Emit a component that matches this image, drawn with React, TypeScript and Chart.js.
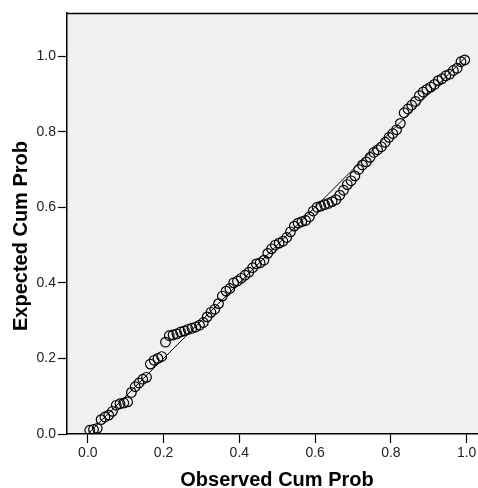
import React, { useEffect, useRef } from "react";
import { Chart, registerables } from "chart.js";

Chart.register(...registerables);

// Observed cumulative probability (x)
const observedCumProb = [
  0.005, 0.015, 0.025, 0.035, 0.045, 0.055, 0.065, 0.075, 0.085, 0.095,
  0.105, 0.115, 0.125, 0.135, 0.145, 0.155, 0.165, 0.175, 0.185, 0.195,
  0.205, 0.215, 0.225, 0.235, 0.245, 0.255, 0.265, 0.275, 0.285, 0.295,
  0.305, 0.315, 0.325, 0.335, 0.345, 0.355, 0.365, 0.375, 0.385, 0.395,
  0.405, 0.415, 0.425, 0.435, 0.445, 0.455, 0.465, 0.475, 0.485, 0.495,
  0.505, 0.515, 0.525, 0.535, 0.545, 0.555, 0.565, 0.575, 0.585, 0.595,
  0.605, 0.615, 0.625, 0.635, 0.645, 0.655, 0.665, 0.675, 0.685, 0.695,
  0.705, 0.715, 0.725, 0.735, 0.745, 0.755, 0.765, 0.775, 0.785, 0.795,
  0.805, 0.815, 0.825, 0.835, 0.845, 0.855, 0.865, 0.875, 0.885, 0.895,
  0.905, 0.915, 0.925, 0.935, 0.945, 0.955, 0.965, 0.975, 0.985, 0.995,
];

// Expected cumulative probability (y)
const expectedCumProb = [
  0.010, 0.012, 0.015, 0.038, 0.045, 0.050, 0.060, 0.076, 0.080, 0.082,
  0.085, 0.110, 0.125, 0.135, 0.145, 0.150, 0.185, 0.195, 0.200, 0.205,
  0.243, 0.260, 0.262, 0.265, 0.270, 0.273, 0.277, 0.280, 0.283, 0.288,
  0.295, 0.310, 0.322, 0.330, 0.345, 0.365, 0.378, 0.385, 0.400, 0.405,
  0.412, 0.420, 0.428, 0.440, 0.450, 0.453, 0.460, 0.478, 0.490, 0.500,
  0.505, 0.510, 0.520, 0.535, 0.550, 0.558, 0.562, 0.565, 0.575, 0.590,
  0.600, 0.603, 0.607, 0.610, 0.615, 0.620, 0.632, 0.645, 0.660, 0.670,
  0.683, 0.700, 0.712, 0.720, 0.732, 0.745, 0.752, 0.760, 0.772, 0.785,
  0.795, 0.805, 0.822, 0.850, 0.860, 0.870, 0.880, 0.895, 0.905, 0.912,
  0.918, 0.925, 0.935, 0.940, 0.948, 0.952, 0.962, 0.968, 0.985, 0.990,
];

// Reference diagonal (expected = observed)
const refLineX = [0, 1];
const refLineY = [0, 1];

const xTitle = "Observed Cum Prob";
const yTitle = "Expected Cum Prob";

const FONT = "'Liberation Sans', Arial, Helvetica, sans-serif";

const backgroundPlugin = {
  id: "plotBackground",
  beforeDraw(chart: any) {
    const { ctx, chartArea } = chart;
    const { left, top, right, bottom } = chartArea;
    ctx.save();
    ctx.fillStyle = "#F0F0F0";
    ctx.fillRect(left, top, right - left, bottom - top);
    ctx.strokeStyle = "#000000";
    ctx.lineWidth = 1.5;
    ctx.beginPath();
    ctx.moveTo(left, top + 0.5);
    ctx.lineTo(right, top + 0.5);
    ctx.stroke();
    ctx.restore();
  },
};

const axisTitlePlugin = {
  id: "axisTitles",
  afterDraw(chart: any) {
    const { ctx } = chart;
    ctx.save();
    ctx.fillStyle = "#000000";
    ctx.font = `bold 20px ${FONT}`;
    ctx.textAlign = "center";
    ctx.textBaseline = "alphabetic";
    ctx.fillText(xTitle, 277, 486);
    ctx.translate(26.5, 236);
    ctx.rotate(-Math.PI / 2);
    ctx.fillText(yTitle, 0, 0);
    ctx.restore();
  },
};

export default function App() {
  const canvasRef = useRef<HTMLCanvasElement | null>(null);

  useEffect(() => {
    if (!canvasRef.current) return;
    const points = observedCumProb.map((x, i) => ({ x, y: expectedCumProb[i] }));
    const line = refLineX.map((x, i) => ({ x, y: refLineY[i] }));

    const chart = new Chart(canvasRef.current, {
      type: "scatter",
      data: {
        datasets: [
          {
            type: "line",
            data: line,
            borderColor: "#000000",
            borderWidth: 1,
            pointRadius: 0,
            fill: false,
            order: 2,
          } as any,
          {
            type: "scatter",
            data: points,
            pointStyle: "circle",
            pointRadius: 4.8,
            pointBorderWidth: 1.2,
            borderColor: "#000000",
            backgroundColor: "rgba(0,0,0,0)",
            pointBackgroundColor: "rgba(0,0,0,0)",
            order: 1,
          } as any,
        ],
      },
      options: {
        responsive: false,
        animation: false,
        layout: { autoPadding: false, padding: { top: 13, left: 0, right: 0, bottom: 0 } },
        plugins: {
          legend: { display: false },
          tooltip: { enabled: false },
        },
        scales: {
          x: {
            type: "linear",
            min: -0.055,
            max: 1.03,
            grid: {
              display: true,
              drawOnChartArea: false,
              drawTicks: true,
              tickLength: 9,
              tickColor: "#000000",
              tickWidth: 1.2,
            },
            border: { display: true, color: "#000000", width: 1.5 },
            ticks: {
              stepSize: 0.2,
              includeBounds: false,
              padding: 2,
              color: "#222222",
              font: { family: FONT, size: 14 },
              maxRotation: 0,
              autoSkip: false,
              callback: (v: any) => Number(v).toFixed(1),
            },
            title: { display: false, text: xTitle },
            afterFit: (scale: any) => {
              scale.height = 54;
              scale.paddingLeft = 0;
              scale.paddingRight = 0;
            },
          },
          y: {
            type: "linear",
            min: 0,
            max: 1.114,
            grid: {
              display: true,
              drawOnChartArea: false,
              drawTicks: true,
              tickLength: 9,
              tickColor: "#000000",
              tickWidth: 1.2,
            },
            border: { display: true, color: "#000000", width: 1.5 },
            ticks: {
              stepSize: 0.2,
              includeBounds: false,
              padding: 2,
              color: "#222222",
              font: { family: FONT, size: 14 },
              autoSkip: false,
              callback: (v: any) => Number(v).toFixed(1),
            },
            title: { display: false, text: yTitle },
            afterFit: (scale: any) => {
              scale.width = 67;
              scale.paddingTop = 0;
              scale.paddingBottom = 0;
            },
          },
        },
      } as any,
      plugins: [backgroundPlugin, axisTitlePlugin],
    });
    return () => chart.destroy();
  }, []);

  return (
    <div
      style={{
        position: "fixed",
        left: 0,
        top: 0,
        width: 478,
        height: 488,
        background: "#ffffff",
      }}
    >
      <canvas ref={canvasRef} width={478} height={488} />
    </div>
  );
}
